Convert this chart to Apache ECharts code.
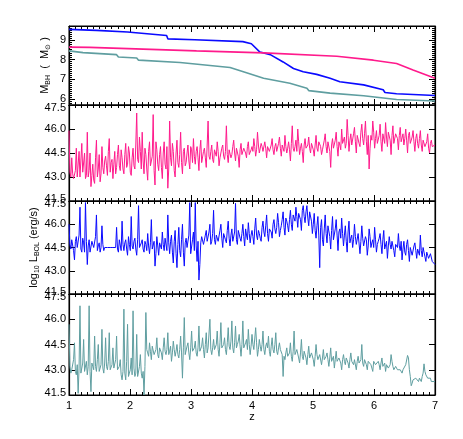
<!DOCTYPE html>
<html>
<head>
<meta charset="utf-8">
<script src="https://cdn.jsdelivr.net/npm/echarts@6/dist/echarts.min.js"></script>
<style>
  html, body { margin: 0; background: #fff; }
  #chart { width: 463px; height: 439px; }
</style>
</head>
<body>
<div id="chart"></div>
<script>
// top panel: black hole mass, log10 M_BH (M_sun), knots
const massBlueZ = [1.0, 1.45, 1.96, 1.98, 2.6, 2.62, 3.06, 3.85, 3.99, 4.13, 4.3, 4.51, 4.68, 4.84, 5.06, 5.28, 5.44, 5.83, 6.15, 6.18, 6.37, 7.0];
const massBlue  = [9.53, 9.48, 9.40, 9.33, 9.22, 9.05, 9.0, 8.91, 8.8, 8.38, 8.25, 7.88, 7.55, 7.38, 7.25, 7.05, 6.88, 6.72, 6.47, 6.33, 6.27, 6.18];
const massPinkZ = [1.0, 1.34, 1.36, 3.09, 4.19, 5.39, 5.99, 6.37, 6.64, 7.0];
const massPink  = [8.63, 8.62, 8.57, 8.44, 8.34, 8.17, 7.97, 7.80, 7.47, 7.05];
const massTealZ = [1.0, 1.23, 1.78, 1.81, 2.11, 2.14, 2.82, 3.64, 3.91, 4.19, 4.62, 4.9, 4.93, 5.28, 5.83, 6.37, 7.0];
const massTeal  = [8.44, 8.35, 8.25, 8.13, 8.08, 7.97, 7.85, 7.6, 7.33, 7.05, 6.8, 6.55, 6.43, 6.3, 6.17, 5.98, 5.9];

// lower panels: log10 L_BOL (erg/s)
// main samples every 0.03 in z from z = 1, "Mid" samples halfway between them
const lumStep = 0.03;
const lumPink = [
  45.9, 43.0, 43.2, 42.9, 44.8, 43.1, 43.0, 45.1, 43.2, 42.9,
  45.8, 43.4, 42.4, 43.8, 42.6, 45.3, 43.5, 42.7, 44.9, 43.2,
  44.3, 43.1, 45.4, 43.9, 42.9, 44.6, 43.6, 45.0, 43.4, 44.2,
  43.2, 45.1, 43.8, 44.5, 43.1, 44.8, 43.5, 47.0, 43.9, 44.6,
  45.8, 43.2, 44.4, 42.8, 45.2, 43.6, 46.9, 42.5, 44.7, 43.4,
  44.9, 42.9, 45.2, 43.5, 42.3, 46.5, 43.7, 44.6, 43.0, 45.3,
  43.6, 45.8, 43.2, 44.8, 43.9, 45.0, 43.5, 44.7, 45.4, 43.8,
  44.9, 43.4, 45.3, 44.0, 44.8, 43.6, 46.5, 44.1, 45.0, 43.9,
  44.6, 45.2, 43.7, 44.3, 45.0, 44.1, 46.2, 43.9, 44.8, 44.4,
  45.3, 44.0, 44.7, 43.6, 45.1, 44.4, 44.9, 44.2, 45.2, 44.5,
  44.9, 45.4, 44.3, 45.8, 44.5, 45.1, 44.6, 45.2, 44.2, 45.0,
  44.6, 45.4, 44.4, 45.1, 44.7, 45.5, 44.3, 44.9, 45.6, 44.5,
  45.2, 44.0, 46.2, 44.6, 45.3, 46.0, 44.4, 45.1, 43.9, 45.4,
  44.7, 45.5, 44.5, 45.2, 44.3, 45.6, 44.6, 45.3, 44.4, 45.0,
  45.7, 44.5, 45.1, 43.6, 45.4, 44.7, 45.8, 44.3, 45.0, 46.0,
  45.2, 44.8, 46.6, 44.6, 45.7, 45.0, 46.1, 44.5, 45.5, 44.9,
  46.3, 45.0, 46.5, 44.4, 43.5, 45.6, 46.5, 44.8, 45.9, 45.1,
  46.3, 44.6, 45.6, 46.4, 44.9, 45.8, 44.4, 46.2, 45.2, 45.7,
  44.7, 46.1, 45.3, 45.0, 46.0, 44.5, 45.8, 45.0, 45.9, 44.6,
  45.7, 44.8, 45.9, 44.6, 45.4, 45.0, 45.7, 44.5, 45.3, 44.9,
  45.0
];
const lumPinkMid = [
  43.3, 44.2, 42.9, 43.4, 43.0, 44.6, 42.9, 43.3, 44.5, 43.1,
  43.0, 44.5, 43.1, 42.8, 44.2, 43.0, 44.4, 43.2, 43.6, 44.0,
  43.7, 44.6, 43.3, 44.1, 43.8, 43.2, 44.4, 43.7, 44.7, 43.5,
  44.4, 43.6, 44.9, 43.3, 44.2, 43.7, 45.0, 44.1, 45.5, 43.5,
  44.0, 44.8, 43.5, 44.6, 43.7, 44.3, 43.4, 45.2, 43.8, 44.4,
  43.6, 44.5, 43.8, 44.9, 43.5, 44.2, 45.1, 43.4, 44.5, 43.9,
  44.4, 43.9, 44.6, 43.7, 44.5, 44.0, 44.9, 43.9, 44.3, 44.6,
  44.2, 44.7, 43.9, 44.6, 44.2, 45.0, 44.3, 44.6, 44.1, 44.7,
  44.3, 44.6, 44.2, 44.8, 44.3, 44.6, 44.4, 44.7, 44.2, 44.9,
  44.5, 44.8, 44.3, 44.7, 44.4, 44.8, 44.5, 44.9, 44.4, 44.7,
  44.6, 44.9, 44.7, 45.0, 44.6, 44.9, 44.5, 44.8, 44.9, 44.6,
  45.0, 44.7, 44.9, 44.6, 45.1, 44.8, 45.0, 44.6, 44.9, 44.8,
  44.7, 45.1, 44.8, 44.9, 44.6, 45.2, 44.8, 44.6, 45.0, 44.8,
  45.0, 44.8, 45.1, 44.7, 45.0, 44.8, 45.2, 44.9, 44.7, 45.3,
  44.9, 45.2, 44.6, 45.0, 44.8, 45.3, 44.9, 45.2, 44.7, 45.1,
  45.5, 45.1, 45.6, 45.3, 45.0, 45.7, 45.2, 45.6, 45.1, 45.8,
  45.4, 45.7, 45.2, 45.6, 44.8, 45.3, 45.8, 45.4, 45.1, 45.6,
  45.2, 45.7, 45.1, 45.5, 45.8, 45.3, 45.6, 45.1, 45.7, 45.4,
  45.6, 45.2, 45.7, 45.4, 45.3, 45.6, 45.1, 45.5, 45.2, 45.4,
  45.1, 45.4, 45.0, 45.3, 44.9, 45.2, 44.8, 45.1, 44.9, 45.0
];
const lumBlue = [
  46.0, 44.4, 44.9, 43.7, 45.2, 44.5, 47.1, 44.2, 44.8, 47.4,
  43.4, 45.0, 44.3, 44.8, 44.4, 46.6, 44.6, 44.2, 45.9, 44.3,
  44.6, 44.5, 44.5, 44.5, 44.5, 44.5, 45.8, 44.2, 44.9, 46.2,
  44.3, 45.0, 44.0, 44.7, 46.5, 44.4, 45.1, 44.0, 47.2, 44.6,
  45.0, 44.2, 44.7, 45.4, 44.1, 46.3, 44.5, 43.3, 45.2, 44.0,
  44.9, 45.5, 44.3, 45.0, 46.6, 44.1, 45.3, 43.5, 45.6, 43.2,
  45.8, 43.9, 46.0, 43.3, 45.1, 44.4, 47.4, 44.2, 45.5, 47.4,
  43.6, 42.4, 44.8, 45.3, 44.6, 45.6, 44.8, 46.0, 44.9, 46.9,
  44.7, 45.4, 44.9, 46.0, 44.5, 45.3, 44.8, 46.2, 44.6, 45.7,
  45.0, 47.35, 44.7, 45.5, 44.9, 46.0, 44.6, 45.3, 46.1, 44.8,
  45.6, 44.7, 46.4, 45.0, 45.4, 44.9, 46.2, 45.2, 46.6, 44.9,
  45.8, 45.1, 46.3, 45.4, 46.7, 45.2, 45.9, 46.8, 45.3, 46.2,
  45.5, 46.9, 45.6, 46.4, 47.1, 45.8, 46.8, 45.6, 47.2, 46.1,
  47.2, 45.9, 46.9, 45.4, 46.7, 45.1, 46.5, 43.2, 46.3, 44.6,
  46.6, 44.8, 45.9, 44.4, 46.5, 45.0, 46.3, 44.3, 45.7, 46.4,
  44.6, 45.9, 44.2, 46.2, 45.1, 44.5, 46.0, 44.7, 45.4, 44.1,
  45.9, 44.6, 45.2, 44.0, 45.7, 44.5, 45.0, 45.8, 44.2, 44.9,
  45.4, 44.1, 45.6, 44.5, 43.8, 45.2, 44.4, 45.0, 43.9, 44.6,
  45.4, 44.3, 43.7, 44.9, 44.0, 45.0, 43.6, 44.5, 44.1, 44.8,
  43.8, 44.4, 45.3, 43.9, 44.2, 43.6, 44.0, 43.7, 44.2, 43.5,
  43.4
];
const lumBlueMid = [
  44.7, 45.0, 44.3, 44.9, 44.5, 45.3, 44.4, 45.1, 44.2, 44.9,
  44.6, 44.2, 44.9, 44.5, 45.2, 44.3, 44.8, 44.5, 44.7, 44.5,
  44.5, 44.5, 44.5, 44.5, 44.5, 44.5, 44.4, 45.0, 44.3, 44.7,
  44.8, 44.4, 45.2, 44.3, 44.6, 44.9, 44.4, 45.0, 44.5, 44.8,
  44.4, 44.9, 44.3, 44.6, 44.8, 44.4, 44.9, 44.1, 44.6, 44.8,
  44.4, 44.7, 45.1, 44.3, 44.8, 44.9, 44.2, 44.9, 44.1, 44.7,
  44.3, 45.0, 44.2, 44.8, 44.5, 45.3, 44.1, 45.0, 44.3, 44.6,
  44.9, 43.4, 45.2, 44.7, 45.3, 44.9, 45.5, 44.7, 45.4, 45.0,
  45.3, 44.9, 45.6, 45.1, 45.4, 45.0, 45.6, 45.1, 45.3, 44.9,
  45.5, 45.0, 45.6, 45.1, 45.4, 45.2, 45.7, 45.0, 45.4, 45.3,
  45.2, 45.7, 45.3, 45.6, 45.1, 45.8, 45.5, 45.9, 45.4, 45.7,
  45.5, 46.0, 45.7, 45.8, 46.1, 45.6, 46.3, 45.8, 46.4, 45.9,
  46.3, 46.0, 46.6, 46.2, 46.5, 46.7, 46.3, 46.9, 46.5, 46.8,
  46.4, 46.8, 46.2, 46.0, 45.6, 45.9, 45.3, 45.8, 45.0, 45.7,
  45.4, 45.9, 45.2, 45.6, 45.0, 45.7, 45.3, 45.5, 45.1, 45.4,
  45.3, 44.9, 45.5, 44.8, 45.3, 45.0, 45.2, 44.7, 45.3, 44.9,
  45.1, 44.7, 45.0, 44.6, 45.2, 44.8, 44.5, 45.0, 44.7, 45.1,
  44.7, 45.0, 44.4, 44.9, 44.6, 44.7, 44.9, 44.3, 44.7, 44.5,
  44.6, 44.9, 44.4, 44.2, 44.7, 44.3, 44.5, 44.0, 44.6, 44.3,
  44.4, 44.0, 44.3, 44.5, 43.9, 44.2, 43.8, 44.1, 43.6, 43.5
];
const lumTeal = [
  45.7, 42.8, 43.1, 44.6, 42.7, 41.6, 46.8, 42.9, 44.8, 43.0,
  42.7, 46.8, 41.7, 43.2, 45.0, 42.9, 44.5, 43.1, 45.4, 42.8,
  44.9, 43.0, 45.2, 43.1, 44.3, 43.0, 45.0, 42.9, 43.6, 42.4,
  46.6, 42.4, 45.7, 42.8, 43.7, 46.5, 42.6, 45.1, 42.7, 43.9,
  42.5, 41.5, 46.4, 44.0, 44.6, 43.6, 44.3, 43.8, 44.9, 43.7,
  44.4, 43.6, 44.9, 43.9, 45.2, 44.1, 43.5, 44.7, 43.8, 44.5,
  43.7, 45.0, 42.5, 46.1, 43.9, 44.6, 43.6, 45.3, 44.0, 44.7,
  43.8, 45.6, 44.1, 44.9, 43.7, 45.2, 44.3, 46.0, 43.9, 44.8,
  44.2, 45.3, 43.8, 45.8, 44.4, 44.9, 43.9, 45.5, 44.2, 45.9,
  44.0, 45.6, 44.5, 45.1, 43.8, 45.9, 44.3, 44.8, 45.4, 43.9,
  45.1, 44.2, 45.5, 43.8, 44.8, 44.1, 45.3, 43.9, 44.6, 45.0,
  43.8, 44.9, 44.0, 45.2, 43.9, 44.6, 44.2, 42.6, 43.6, 44.3,
  43.7, 44.6, 43.5, 45.3, 43.8, 44.2, 43.4, 44.8, 43.6, 44.0,
  43.3, 44.4, 43.7, 44.1, 43.2, 44.5, 43.6, 43.9, 43.3, 44.2,
  43.5, 44.0, 43.2, 44.3, 43.6, 43.1, 44.1, 43.4, 43.8, 43.0,
  43.9, 43.3, 43.7, 43.1, 44.0, 43.4, 43.6, 43.0, 43.8, 43.3,
  44.5, 43.2, 43.7, 43.0, 43.6, 43.3, 42.9, 43.6, 43.2, 43.5,
  43.0, 43.7, 43.2, 42.9, 43.4, 43.1, 43.9, 43.2, 42.9, 43.1,
  42.9, 43.0, 42.8, 43.1, 43.3, 43.85, 43.0, 42.05, 42.4, 42.3,
  42.5, 42.3, 42.4, 42.6, 43.35, 42.7, 42.5, 42.6, 42.3, 42.4,
  42.3
];
const lumTealMid = [
  43.2, 43.0, 43.6, 42.9, 43.3, 43.1, 42.8, 43.4, 42.9, 43.5,
  43.2, 42.9, 43.4, 43.0, 43.2, 43.6, 42.9, 43.3, 43.1, 43.4,
  43.2, 43.5, 43.0, 43.3, 43.1, 43.6, 43.0, 43.2, 42.7, 42.9,
  42.8, 43.5, 42.6, 43.0, 42.7, 43.1, 42.8, 42.6, 43.2, 42.8,
  42.9, 43.2, 44.2, 43.8, 44.1, 44.4, 43.9, 44.2, 43.9, 44.3,
  44.0, 44.3, 44.1, 44.2, 43.9, 44.4, 44.0, 44.2, 44.1, 43.9,
  44.2, 44.0, 44.3, 43.9, 44.4, 44.0, 44.3, 44.1, 44.3, 44.0,
  44.3, 44.1, 44.4, 44.2, 44.5, 44.0, 44.4, 44.2, 44.3, 44.2,
  44.5, 44.2, 44.6, 44.3, 44.5, 44.2, 44.6, 44.4, 44.7, 44.3,
  44.6, 44.3, 44.7, 44.4, 44.5, 44.3, 44.6, 44.2, 44.5, 44.4,
  44.5, 44.3, 44.6, 44.2, 44.4, 44.5, 44.2, 44.4, 44.3, 44.1,
  44.4, 44.2, 44.5, 44.1, 44.3, 44.2, 43.9, 43.8, 44.0, 43.8,
  44.0, 43.8, 44.1, 43.9, 44.2, 43.7, 44.0, 43.8, 44.1, 43.7,
  43.9, 43.7, 44.0, 43.6, 43.8, 43.9, 43.6, 43.8, 43.7, 43.6,
  43.8, 43.6, 43.7, 43.5, 43.8, 43.6, 43.5, 43.7, 43.4, 43.6,
  43.5, 43.7, 43.4, 43.6, 43.5, 43.3, 43.7, 43.5, 43.4, 43.6,
  43.4, 43.6, 43.3, 43.5, 43.4, 43.2, 43.5, 43.3, 43.4, 43.3,
  43.4, 43.2, 43.4, 43.3, 43.1, 43.3, 43.5, 43.0, 43.2, 43.0,
  43.1, 42.9, 43.0, 42.9, 43.4, 43.7, 42.6, 42.2, 42.4, 42.5,
  42.4, 42.5, 42.3, 42.8, 42.9, 42.6, 42.4, 42.5, 42.4, 42.3
];

const zTicks = [1, 2, 3, 4, 5, 6, 7];
const massTicks = [6, 7, 8, 9];
const lumTicks = [41.5, 43.0, 44.5, 46.0, 47.5];

const PINK = '#ff1a8c', BLUE = '#0a0aff', TEAL = '#5f9ea0';
const FONT = '"Liberation Sans", Arial, sans-serif';

// minor ticks on the mass axis every 0.1
const massMinor = [];
for (let i = 58; i <= 96; i++) if (i % 10) massMinor.push(i / 10);

const pairs = (zs, vs) => vs.map((v, i) => [zs[i], v]);
const lumPairs = (main, mid) => {
  const out = [];
  main.forEach((v, i) => {
    const z = 1 + i * lumStep;
    out.push([Math.round(z * 1000) / 1000, v]);
    if (i < mid.length) out.push([Math.round((z + lumStep / 2) * 1000) / 1000, mid[i]]);
  });
  return out;
};

const panels = [
  { top: 26, height: 79 },
  { top: 105, height: 96 },
  { top: 201, height: 93 },
  { top: 294, height: 101 }
];

const black = { color: '#000', width: 1.2 };
const xAxes = [], yAxes = [];

panels.forEach((p, gi) => {
  const last = gi === panels.length - 1;
  ['bottom', 'top'].forEach(pos => {
    xAxes.push({
      gridIndex: gi, type: 'value', position: pos, min: zTicks[0], max: zTicks[zTicks.length - 1], interval: 1,
      axisLine: { show: true, onZero: false, lineStyle: black },
      axisTick: { show: true, inside: true, length: 6, lineStyle: { color: '#000' } },
      minorTick: { show: true, splitNumber: 10, length: 3, lineStyle: { color: '#000' } },
      axisLabel: { show: last && pos === 'bottom', color: '#000', fontSize: 11, fontFamily: FONT, margin: 5 },
      splitLine: { show: false },
      name: last && pos === 'bottom' ? 'z' : '',
      nameLocation: 'middle', nameGap: 16, nameMoveOverlap: false,
      nameTextStyle: { color: '#000', fontSize: 11, fontFamily: FONT }
    });
  });
});

const sub = { fontSize: 7, lineHeight: 8, verticalAlign: 'bottom', fontFamily: FONT, color: '#000' };

function yPair(gi, min, max, ticks, fmt, name, gap) {
  ['left', 'right'].forEach(pos => {
    yAxes.push({
      gridIndex: gi, type: 'value', position: pos, min: min, max: max,
      axisLine: { show: true, onZero: false, lineStyle: black },
      axisTick: { show: true, inside: true, length: 6, customValues: ticks, lineStyle: { color: '#000' } },
      axisLabel: {
        show: pos === 'left', customValues: ticks, color: '#000', fontSize: 11, fontFamily: FONT, margin: 3,
        formatter: v => v === min ? '{lo|' + fmt(v) + '}' : v === max ? '{hi|' + fmt(v) + '}' : fmt(v),
        rich: {
          lo: { fontSize: 11, fontFamily: FONT, color: '#000', padding: [0, 0, 5, 0] },
          hi: { fontSize: 11, fontFamily: FONT, color: '#000', padding: [6, 0, 0, 0] }
        }
      },
      splitLine: { show: false },
      name: pos === 'left' ? name : '',
      nameLocation: 'middle', nameGap: gap, nameMoveOverlap: false,
      nameTextStyle: { color: '#000', fontSize: 11, lineHeight: 14, fontFamily: FONT, rich: { s: sub } }
    });
  });
}

yPair(0, 5.7, 9.7, massTicks, v => String(v), 'M{s|BH}  (  M{s|\u2299} )', 17);
// short 0.1 ticks for the mass panel
['left', 'right'].forEach(pos => {
  yAxes.push({
    gridIndex: 0, type: 'value', position: pos, min: 5.7, max: 9.7,
    axisLine: { show: false },
    axisTick: { show: true, inside: true, length: 3, customValues: massMinor, lineStyle: { color: '#000' } },
    axisLabel: { show: false },
    splitLine: { show: false }
  });
});
yPair(1, 41.5, 47.5, lumTicks, v => v.toFixed(1), '', 0);
yPair(2, 41.5, 47.5, lumTicks, v => v.toFixed(1), 'log{s|10} L{s|BOL} (erg/s)', 28);
yPair(3, 41.5, 47.5, lumTicks, v => v.toFixed(1), '', 0);

const line = (xi, yi, color, width, data) => ({
  type: 'line', xAxisIndex: xi, yAxisIndex: yi, data: data,
  showSymbol: false, symbol: 'none', sampling: null,
  lineStyle: { color: color, width: width }, itemStyle: { color: color },
  emphasis: { disabled: true }, silent: true
});

const option = {
  backgroundColor: '#ffffff',
  animation: false,
  grid: panels.map(p => ({
    left: 69, width: 366, top: p.top, height: p.height,
    show: true, borderColor: '#000', borderWidth: 1, backgroundColor: 'transparent',
    containLabel: false, outerBoundsMode: 'none'
  })),
  xAxis: xAxes,
  yAxis: yAxes,
  series: [
    line(0, 0, BLUE, 1.6, pairs(massBlueZ, massBlue)),
    line(0, 0, PINK, 1.6, pairs(massPinkZ, massPink)),
    line(0, 0, TEAL, 1.6, pairs(massTealZ, massTeal)),
    line(2, 4, PINK, 1, lumPairs(lumPink, lumPinkMid)),
    line(4, 6, BLUE, 1, lumPairs(lumBlue, lumBlueMid)),
    line(6, 8, TEAL, 1, lumPairs(lumTeal, lumTealMid))
  ]
};

const chart = echarts.init(document.getElementById('chart'), null, { renderer: 'canvas' });
chart.setOption(option);
</script>
</body>
</html>
